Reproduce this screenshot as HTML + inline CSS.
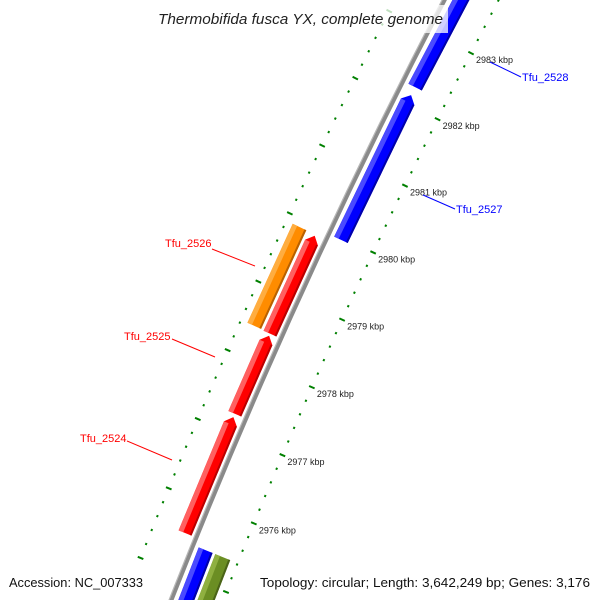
<!DOCTYPE html>
<html><head><meta charset="utf-8"><style>
html,body{margin:0;padding:0;background:#fff;width:600px;height:600px;overflow:hidden;}
svg{display:block;font-family:"Liberation Sans","DejaVu Sans",sans-serif;overflow:hidden;}
</style></head><body>
<svg id="map" width="600" height="600" viewBox="0 0 600 600">
<g id="rings"></g>
<g id="backbone"></g>
<g id="features"></g>
<g id="ticklabels"></g>
<g>
 <line x1="212" y1="249" x2="255" y2="266" stroke="#ff0000" stroke-width="1"/>
 <text x="165" y="247" font-size="11" fill="#ff0000">Tfu_2526</text>
 <line x1="172" y1="339" x2="215" y2="357" stroke="#ff0000" stroke-width="1"/>
 <text x="124" y="340" font-size="11" fill="#ff0000">Tfu_2525</text>
 <line x1="127" y1="441" x2="172" y2="460" stroke="#ff0000" stroke-width="1"/>
 <text x="80" y="442" font-size="11" fill="#ff0000">Tfu_2524</text>
 <line x1="423" y1="195" x2="455" y2="209" stroke="#0000ff" stroke-width="1"/>
 <text x="456" y="213" font-size="11" fill="#0000ff">Tfu_2527</text>
 <line x1="490" y1="62" x2="521" y2="77" stroke="#0000ff" stroke-width="1"/>
 <text x="522" y="81" font-size="11" fill="#0000ff">Tfu_2528</text>
</g>
<rect x="152" y="5" width="296" height="28" fill="#ffffff" fill-opacity="0.75"/>
<text x="158" y="24" font-size="15" font-style="italic" fill="#222" textLength="285" lengthAdjust="spacingAndGlyphs">Thermobifida fusca YX, complete genome</text>
<text x="9" y="587" font-size="13" fill="#111" textLength="134" lengthAdjust="spacingAndGlyphs">Accession: NC_007333</text>
<text x="260" y="587" font-size="13" fill="#111" textLength="330" lengthAdjust="spacingAndGlyphs">Topology: circular; Length: 3,642,249 bp; Genes: 3,176</text>
</svg>
<script>
// data
const tickKbp = [2974,2975,2976,2977,2978,2979,2980,2981,2982,2983,2984,2985];
const tickLabels = ["2974 kbp","2975 kbp","2976 kbp","2977 kbp","2978 kbp","2979 kbp","2980 kbp","2981 kbp","2982 kbp","2983 kbp","2984 kbp","2985 kbp"];
const featureNames = ["Tfu_2524","Tfu_2525","Tfu_2526","Tfu_2526-cds","Tfu_2527","Tfu_2528","lower-forward","lower-forward-2"];
const featureStart = [2975.53,2977.26,2978.43,2978.44,2979.97,2982.25,2973.0,2973.0];
const featureEnd   = [2977.21,2978.40,2979.87,2979.89,2982.13,2985.5,2975.42,2975.42];
const featureSlot  = [-1,-1,-1,-2,1,1,1,2];
const featureArrow = [true,true,true,false,true,true,false,false];

// scales / layout
const CX=5986, CY=2886;
function ang(k){ return (202.4 + (k-2976)*0.684)*Math.PI/180; }
function pt(k,r){ const a=ang(k); return [CX+r*Math.cos(a), CY+r*Math.sin(a)]; }
const slotR = {"-1":[6253,6267],"-2":[6270,6285],"1":[6227,6242],"2":[6208,6224]};
const colors = {"-1":["#ff0000","#ff6060","#b80000"],"-2":["#ff8c00","#ffad40","#b86000"],"1":["#0000ff","#4a4aff","#0000a8"],"2":["#6b8e23","#8fb040","#4a6318"]};
const NS="http://www.w3.org/2000/svg";
function P(a){return a.map(p=>p[0].toFixed(1)+","+p[1].toFixed(1)).join(" ");}

// rings
const rings=document.getElementById('rings');
[[6200,2973.6],[6292,2975.0]].forEach(function(spec){
  const R=spec[0];
  for(let i=0;i<=60;i++){
    const k=spec[1]+i*0.2;
    const major=Math.abs(k-Math.round(k))<0.01;
    const a=pt(k,R-(major?3:1)), b=pt(k,R+(major?3:1));
    const l=document.createElementNS(NS,'line');
    l.setAttribute('x1',a[0]);l.setAttribute('y1',a[1]);l.setAttribute('x2',b[0]);l.setAttribute('y2',b[1]);
    l.setAttribute('stroke','#008000');l.setAttribute('stroke-width',major?2:2.2);
    
    
    rings.appendChild(l);
  }
});

// backbone
const bb=document.getElementById('backbone');
[[6248,4.5,'#8a8a8a'],[6250,1.2,'#b8b8b8']].forEach(function(s){
  const c=document.createElementNS(NS,'circle');
  c.setAttribute('cx',CX);c.setAttribute('cy',CY);c.setAttribute('r',s[0]);
  c.setAttribute('fill','none');c.setAttribute('stroke',s[2]);c.setAttribute('stroke-width',s[1]);
  
  
  bb.appendChild(c);
});

// features
const fg=document.getElementById('features');
function shape(k1,k2,r1,r2,arrow){
  const h=arrow?0.1:0;
  const pts=[];
  pts.push(pt(k1,r1)); pts.push(pt(k2-h,r1));
  if(arrow) pts.push(pt(k2,(r1+r2)/2));
  pts.push(pt(k2-h,r2)); pts.push(pt(k1,r2));
  return P(pts);
}
for(let i=0;i<featureNames.length;i++){
  const s=String(featureSlot[i]); const r=slotR[s]; const c=colors[s];
  const g=document.createElementNS(NS,'g');
  
  
  const k1=featureStart[i], k2=featureEnd[i];
  const layers=[[r[0],r[1],c[0]],[r[1]-5,r[1],c[1]],[r[0],r[0]+2,c[2]]];
  layers.forEach(function(L,j){
    const p=document.createElementNS(NS,'polygon');
    const arrow=featureArrow[i];
    p.setAttribute('points', j===0 ? shape(k1,k2,L[0],L[1],arrow) : shape(k1,k2-(arrow?0.1:0),L[0],L[1],false));
    p.setAttribute('fill',L[2]);
    
    
    g.appendChild(p);
  });
  fg.appendChild(g);
}

// tick labels
const tl=document.getElementById('ticklabels');
for(let i=0;i<tickKbp.length;i++){
  const p=pt(tickKbp[i],6200);
  if(p[1]<40||p[1]>560) continue;
  const t=document.createElementNS(NS,'text');
  t.setAttribute('x',p[0]+5);t.setAttribute('y',p[1]+10);
  t.setAttribute('font-size','9');t.setAttribute('fill','#222');
  t.textContent=tickLabels[i];
  
  
  tl.appendChild(t);
}
</script>
</body></html>
